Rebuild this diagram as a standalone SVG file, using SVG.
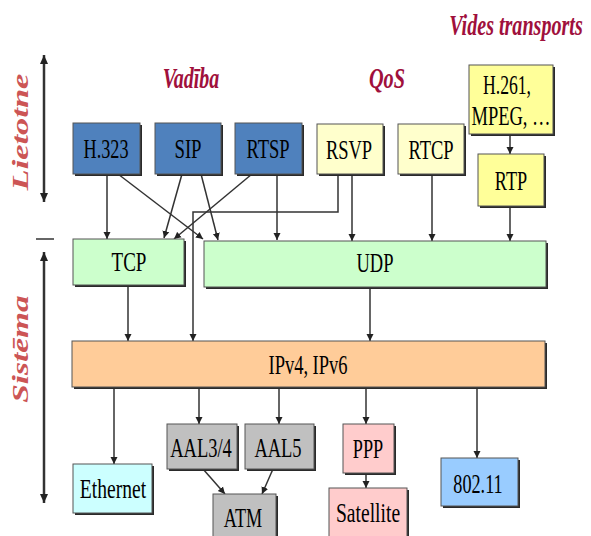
<svg xmlns="http://www.w3.org/2000/svg" width="591" height="536" viewBox="0 0 591 536">
<defs>
<marker id="ah" markerUnits="userSpaceOnUse" markerWidth="8" markerHeight="8" viewBox="0 0 8 8" refX="7" refY="4" orient="auto">
<path d="M0,0.5 L7,4 L0,7.5 Z" fill="#222"/>
</marker>
<marker id="ahs" markerUnits="userSpaceOnUse" markerWidth="10" markerHeight="10" viewBox="0 0 10 10" refX="9" refY="5" orient="auto-start-reverse">
<path d="M0,1 L9,5 L0,9 Z" fill="#222"/>
</marker>
<style>
.sh{fill:#2a2a2a}
.bx{stroke:#555;stroke-width:1}
.blue{fill:#4f81bd}
.ly{fill:#ffffcc}
.yl{fill:#ffff99}
.gr{fill:#ccffcc}
.or{fill:#ffcc99}
.gy{fill:#c0c0c0}
.cy{fill:#ccffff}
.pk{fill:#ffcccc}
.sk{fill:#99ccff}
text{font-family:"Liberation Serif","Times New Roman",serif}
.t{font-size:28px;fill:#000;text-anchor:middle}
.h{font-weight:bold;font-style:italic;fill:#a0103c;text-anchor:middle}
.s{font-weight:bold;font-style:italic;fill:#cc5555;text-anchor:middle;font-size:23px}
.c{fill:none;stroke:#333;stroke-width:1.5;marker-end:url(#ah)}
.ax{fill:none;stroke:#333;stroke-width:2.5;marker-start:url(#ahs);marker-end:url(#ahs)}
</style>
</defs>

<g id="titles">
<text class="h" font-size="30" transform="translate(516,35) scale(0.67,1)">Vides transports</text>
<text class="h" font-size="29" transform="translate(191,88) scale(0.69,1)">Vadība</text>
<text class="h" font-size="29" transform="translate(387,88) scale(0.7,1)">QoS</text>
<text class="s" transform="translate(28,132) rotate(-90) scale(1.5,1)">Lietotne</text>
<text class="s" transform="translate(28,349) rotate(-90) scale(1.45,1)">Sistēma</text>
</g>

<g id="axes">
<path class="ax" d="M44,55 V202"/>
<path class="ax" d="M44,252 V503"/>
<path d="M36,239 H54" stroke="#333" stroke-width="1.5"/>
</g>

<g id="connectors">
<path class="c" d="M107,174 V239"/>
<path class="c" d="M118,174 L203,239"/>
<path class="c" d="M182,174 L164,238"/>
<path class="c" d="M201,174 L218,240"/>
<path class="c" d="M252,174 L174,239"/>
<path class="c" d="M277,174 V240"/>
<path class="c" d="M338,174 V212 H193 V341"/>
<path class="c" d="M352,174 V241"/>
<path class="c" d="M432,174 V241"/>
<path class="c" d="M510,134 V154"/>
<path class="c" d="M510,206 V241"/>
<path class="c" d="M128,285 V341"/>
<path class="c" d="M370,287 V341"/>
<path class="c" d="M114,387 V464"/>
<path class="c" d="M199,387 V424"/>
<path class="c" d="M279,387 V424"/>
<path class="c" d="M366,387 V424"/>
<path class="c" d="M477,387 V458"/>
<path class="c" d="M203,469 L225,494"/>
<path class="c" d="M273,469 L262,494"/>
<path class="c" d="M366,473 V488"/>
</g>

<g id="h323"><rect class="sh" x="75" y="125" width="67" height="51"/><rect class="bx blue" x="73" y="123" width="67" height="51"/><text class="t" transform="translate(106,158) scale(0.65,1)">H.323</text></g>
<g id="sip"><rect class="sh" x="157" y="125" width="66" height="51"/><rect class="bx blue" x="155" y="123" width="66" height="51"/><text class="t" transform="translate(188,158) scale(0.67,1)">SIP</text></g>
<g id="rtsp"><rect class="sh" x="237" y="125" width="67" height="51"/><rect class="bx blue" x="235" y="123" width="67" height="51"/><text class="t" transform="translate(268,158) scale(0.66,1)">RTSP</text></g>
<g id="rsvp"><rect class="sh" x="319" y="126" width="66" height="50"/><rect class="bx ly" x="317" y="124" width="66" height="50"/><text class="t" transform="translate(349,159) scale(0.66,1)">RSVP</text></g>
<g id="rtcp"><rect class="sh" x="400" y="126" width="66" height="50"/><rect class="bx ly" x="398" y="124" width="66" height="50"/><text class="t" transform="translate(431,159) scale(0.66,1)">RTCP</text></g>
<g id="h261"><rect class="sh" x="471" y="67" width="84" height="69"/><rect class="bx yl" x="469" y="65" width="84" height="69"/><text class="t" transform="translate(507,94) scale(0.63,1)">H.261,</text><text class="t" transform="translate(511,125) scale(0.66,1)">MPEG, …</text></g>
<g id="rtp"><rect class="sh" x="480" y="156" width="66" height="52"/><rect class="bx yl" x="478" y="154" width="66" height="52"/><text class="t" transform="translate(511,190) scale(0.65,1)">RTP</text></g>
<g id="tcp"><rect class="sh" x="75" y="241" width="111" height="46"/><rect class="bx gr" x="73" y="239" width="111" height="46"/><text class="t" transform="translate(129,271) scale(0.68,1)">TCP</text></g>
<g id="udp"><rect class="sh" x="206" y="243" width="342" height="46"/><rect class="bx gr" x="204" y="241" width="342" height="46"/><text class="t" transform="translate(375,272) scale(0.66,1)">UDP</text></g>
<g id="ip"><rect class="sh" x="74" y="343" width="473" height="46"/><rect class="bx or" x="72" y="341" width="473" height="46"/><text class="t" transform="translate(308,374) scale(0.66,1)">IPv4, IPv6</text></g>
<g id="aal34"><rect class="sh" x="169" y="426" width="70" height="45"/><rect class="bx gy" x="167" y="424" width="70" height="45"/><text class="t" transform="translate(201,457) scale(0.66,1)">AAL3/4</text></g>
<g id="aal5"><rect class="sh" x="247" y="426" width="69" height="45"/><rect class="bx gy" x="245" y="424" width="69" height="45"/><text class="t" transform="translate(278,457) scale(0.66,1)">AAL5</text></g>
<g id="ethernet"><rect class="sh" x="75" y="466" width="79" height="49"/><rect class="bx cy" x="73" y="464" width="79" height="49"/><text class="t" transform="translate(113,498) scale(0.7,1)">Ethernet</text></g>
<g id="atm"><rect class="sh" x="215" y="496" width="63" height="44"/><rect class="bx gy" x="213" y="494" width="63" height="44"/><text class="t" transform="translate(243,527) scale(0.65,1)">ATM</text></g>
<g id="ppp"><rect class="sh" x="345" y="426" width="51" height="49"/><rect class="bx pk" x="343" y="424" width="51" height="49"/><text class="t" transform="translate(368,458) scale(0.65,1)">PPP</text></g>
<g id="satellite"><rect class="sh" x="331" y="490" width="78" height="50"/><rect class="bx pk" x="329" y="488" width="78" height="50"/><text class="t" transform="translate(368,522) scale(0.7,1)">Satellite</text></g>
<g id="wifi"><rect class="sh" x="443" y="460" width="77" height="48"/><rect class="bx sk" x="441" y="458" width="77" height="48"/><text class="t" transform="translate(478,493) scale(0.65,1)">802.11</text></g>
</svg>
